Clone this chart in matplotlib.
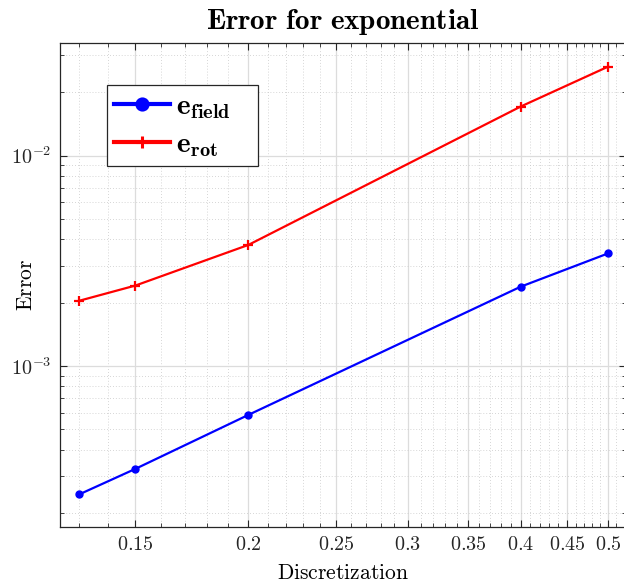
import matplotlib
matplotlib.use("Agg")
import matplotlib.pyplot as plt
from matplotlib.ticker import FixedLocator, FixedFormatter, MultipleLocator, LogLocator, NullFormatter

plt.rcParams['mathtext.fontset'] = 'cm'
plt.rcParams['font.family'] = ['DejaVu Serif']

# data
h = [0.13, 0.15, 0.2, 0.4, 0.5]
e_field = [2.45e-4, 3.24e-4, 5.85e-4, 2.38e-3, 3.43e-3]
e_rot = [2.04e-3, 2.41e-3, 3.76e-3, 1.71e-2, 2.65e-2]

x_ticks = [0.15, 0.2, 0.25, 0.3, 0.35, 0.4, 0.45, 0.5]
x_tick_labels = ['0.15', '0.2', '0.25', '0.3', '0.35', '0.4', '0.45', '0.5']
y_ticks = [1e-3, 1e-2]
y_tick_labels = ['10^{-3}', '10^{-2}']

fig = plt.figure(figsize=(6.24, 5.83), dpi=100)
ax = fig.add_axes([60 / 624, (583 - 526.7) / 583, 566 / 624, 484 / 583])

# trailing spaces widen the legend box like the MATLAB one
ax.plot(h, e_field, color='#0000ff', lw=1.6, marker='o', ms=5,
        label=r'$\mathbf{e}_{\mathbf{field}}$' + '   ')
ax.plot(h, e_rot, color='#ff0000', lw=1.6, marker='+', ms=6.5, mew=1.6,
        label=r'$\mathbf{e}_{\mathbf{rot}}$')

ax.set_xscale('log')
ax.set_yscale('log')
ax.set_xlim(0.1238, 0.523)
ax.set_ylim(1.72e-4, 3.44e-2)

ax.xaxis.set_major_locator(FixedLocator(x_ticks))
ax.xaxis.set_major_formatter(FixedFormatter(['$' + s + '$' for s in x_tick_labels]))
ax.xaxis.set_minor_locator(MultipleLocator(0.01))
ax.xaxis.set_minor_formatter(NullFormatter())
ax.yaxis.set_major_locator(FixedLocator(y_ticks))
ax.yaxis.set_major_formatter(FixedFormatter(['$' + s + '$' for s in y_tick_labels]))
ax.yaxis.set_minor_locator(LogLocator(base=10, subs=range(2, 10)))
ax.yaxis.set_minor_formatter(NullFormatter())

ax.grid(True, which='major', color='#dcdcdc', lw=0.9, ls='-')
ax.grid(True, which='minor', color='#c8c8c8', lw=0.6, ls=(0, (1, 2.5)))
ax.set_axisbelow(True)

ax.tick_params(which='both', direction='in', top=True, right=True,
               colors='#262626')
ax.tick_params(axis='x', labelsize=14.5, pad=6)
ax.tick_params(axis='y', labelsize=14.5, pad=6)
ax.tick_params(which='major', length=5, width=0.8)
ax.tick_params(which='minor', length=3, width=0.6)
for sp in ax.spines.values():
    sp.set_color('#262626')
    sp.set_linewidth(0.9)

ax.set_xlabel(r'$\mathrm{Discretization}$', fontsize=15.5)
ax.xaxis.set_label_coords(0.5, -0.073)
ax.set_ylabel(r'$\mathrm{Error}$', fontsize=15.5)
ax.yaxis.set_label_coords(-0.04, 0.5)
ax.set_title(r'$\mathbf{Error\ for\ exponential}$', fontsize=21, pad=10)

leg = ax.legend(loc='upper left', bbox_to_anchor=(47 / 566, 0.9126), borderaxespad=0,
                fontsize=21, fancybox=False, framealpha=1, edgecolor='#262626',
                handlelength=1.9, handletextpad=0.2, labelspacing=0.3,
                borderpad=0.25)
leg.get_frame().set_linewidth(0.9)
for line in leg.get_lines():
    line.set_linewidth(3)
    line.set_markersize(8)
    line.set_markeredgewidth(2.2)

fig.savefig('out.png', dpi=100)
